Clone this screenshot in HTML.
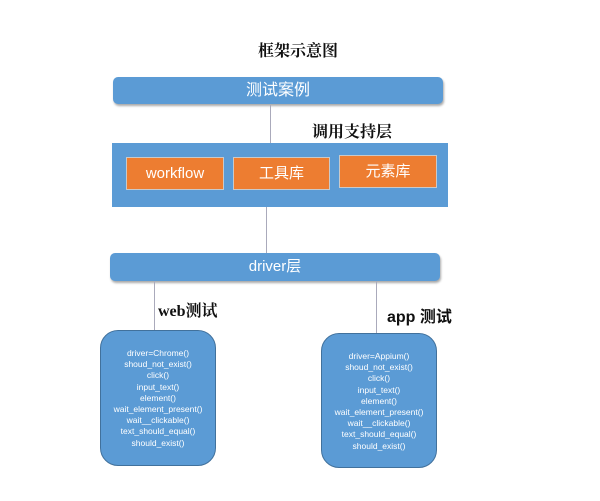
<!DOCTYPE html>
<html><head><meta charset="utf-8"><style>
body{margin:0;width:600px;height:501px;background:#fff;position:relative;overflow:hidden;font-family:"Liberation Sans","Noto Sans CJK SC",sans-serif}
.a{position:absolute}
.bar{background:#5b9bd5;border-radius:5px;color:#fff;text-align:center;box-shadow:1px 2px 2px #aaa}
.or{background:#ed7d31;color:#fff;text-align:center;border:1px solid #c9c9c9;font-size:15px;box-sizing:border-box}
.ln{background:#aab;width:1px}
.rb{background:#5b9bd5;border:1px solid #41719c;border-radius:18px;color:#fff;font-size:8.5px;text-align:center;line-height:11.2px;box-sizing:border-box}
.lb{font-weight:bold;font-size:16px;color:#111;font-family:"Liberation Serif","Noto Serif CJK SC",serif}
</style></head><body>
<div class="a lb" style="left:258px;top:38px;">框架示意图</div>
<div class="a bar" style="left:113px;top:77px;width:330px;height:27px;line-height:27px;font-size:16px">测试案例</div>
<div class="a ln" style="left:270px;top:105px;height:38px"></div>
<div class="a lb" style="left:312px;top:119px;">调用支持层</div>
<div class="a" style="left:112px;top:143px;width:336px;height:64px;background:#5b9bd5"></div>
<div class="a or" style="left:126px;top:157px;width:98px;height:33px;line-height:31px">workflow</div>
<div class="a or" style="left:233px;top:157px;width:97px;height:33px;line-height:31px">工具库</div>
<div class="a or" style="left:339px;top:155px;width:98px;height:33px;line-height:31px">元素库</div>
<div class="a ln" style="left:266px;top:207px;height:46px"></div>
<div class="a bar" style="left:110px;top:253px;width:330px;height:28px;line-height:28px;font-size:15px">driver层</div>
<div class="a ln" style="left:154px;top:281px;height:50px"></div>
<div class="a ln" style="left:376px;top:281px;height:52px"></div>
<div class="a lb" style="left:158px;top:298px;">web测试</div>
<div class="a lb" style="left:387px;top:303px;font-family:'Liberation Sans','Noto Sans CJK SC',sans-serif">app 测试</div>
<div class="a rb" style="left:100px;top:330px;width:116px;height:136px;padding-top:17px">driver=Chrome()<br>shoud_not_exist()<br>click()<br>input_text()<br>element()<br>wait_element_present()<br>wait__clickable()<br>text_should_equal()<br>should_exist()</div>
<div class="a rb" style="left:321px;top:333px;width:116px;height:135px;padding-top:17px">driver=Appium()<br>shoud_not_exist()<br>click()<br>input_text()<br>element()<br>wait_element_present()<br>wait__clickable()<br>text_should_equal()<br>should_exist()</div>
</body></html>
